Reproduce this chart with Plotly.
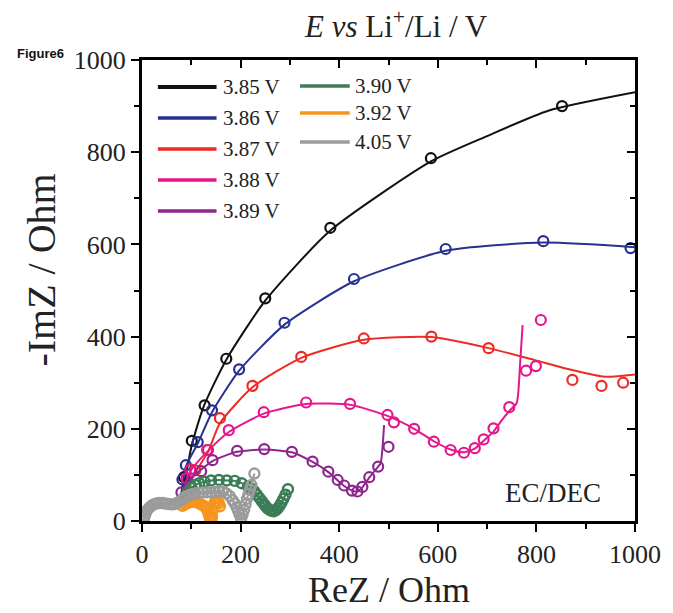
import plotly.graph_objects as go

# ---------------- data ----------------
labels = ["3.85 V", "3.86 V", "3.87 V", "3.88 V", "3.89 V", "3.90 V", "3.92 V", "4.05 V"]
colors = ["#111111", "#27318f", "#ee2a24", "#e6168c", "#8e268f", "#3b7d57", "#f7941d", "#9b9b9b"]

# 3.85 V
v385_x = [85, 101, 127, 171, 250, 382, 586, 852]
v385_y = [95, 174, 251, 352, 483, 636, 787, 900]
v385_fit_x = [78, 90, 101, 125, 171, 250, 382, 586, 700, 824, 1000]
v385_fit_y = [45, 105, 165, 248, 350, 478, 630, 780, 835, 890, 930]

# 3.86 V
v386_x = [82, 89, 113, 142, 197, 289, 430, 616, 814, 991]
v386_y = [90, 121, 171, 240, 329, 430, 525, 590, 607, 592]
v386_fit_x = [78, 89, 113, 142, 197, 289, 430, 616, 814, 1000]
v386_fit_y = [45, 118, 168, 236, 326, 426, 520, 586, 604, 594]

# 3.87 V
v387_x = [108, 134, 158, 224, 323, 450, 587, 703, 873, 932, 976]
v387_y = [110, 154, 223, 293, 356, 396, 400, 375, 306, 293, 300]
v387_fit_x = [82, 108, 134, 158, 224, 323, 450, 587, 703, 797, 871, 939, 1000]
v387_fit_y = [50, 105, 150, 212, 290, 354, 393, 399, 375, 349, 328, 313, 318]

# 3.88 V
v388_x = [90, 98, 132, 176, 247, 333, 422, 498, 511, 552, 592, 626, 653, 675, 693, 713, 745, 779, 799, 809]
v388_y = [92, 112, 154, 197, 236, 257, 254, 230, 214, 200, 172, 154, 148, 158, 177, 201, 247, 326, 336, 436]
v388_fit_x = [80, 98, 132, 176, 247, 333, 422, 498, 552, 592, 626, 653, 675, 693, 713, 730, 747, 760, 767, 772]
v388_fit_y = [55, 108, 150, 193, 233, 254, 252, 228, 200, 173, 155, 149, 157, 174, 194, 219, 241, 256, 342, 425]

# 3.89 V
v389_x = [80, 97, 120, 143, 193, 248, 304, 346, 378, 397, 410, 426, 437, 447, 461, 479, 500]
v389_y = [62, 80, 108, 132, 152, 156, 150, 129, 107, 89, 77, 66, 64, 74, 95, 118, 161]
v389_fit_x = [75, 100, 143, 193, 248, 304, 346, 378, 397, 410, 426, 437, 447, 461, 479, 484, 491]
v389_fit_y = [45, 92, 130, 150, 155, 149, 128, 106, 88, 76, 66, 64, 73, 94, 118, 125, 208]

# 3.90 V
v390_x = [85, 92, 100, 108, 116, 127, 140, 156, 172, 188, 202, 215, 222, 228, 233, 238, 243, 247,
          251, 255, 259, 263, 267, 271, 275, 279, 283, 287, 291, 296]
v390_y = [50, 62, 72, 78, 82, 85, 88, 89, 88, 87, 82, 75, 70, 64, 57, 50, 43, 37,
          32, 27, 24, 22, 21, 23, 27, 33, 40, 48, 57, 69]

# 3.92 V
v392_x = [82, 86, 90, 95, 100, 105, 110, 115, 120, 125, 129, 132, 135, 137, 139, 141, 142, 143,
          145, 147, 150, 153, 156, 158]
v392_y = [33, 36, 38, 40, 42, 42, 41, 39, 36, 33, 30, 24, 16, 9, 4, 2, 10, 22,
          33, 40, 43, 42, 38, 32]

# 4.05 V
v405_x = [3, 4, 6, 8, 11, 15, 19, 24, 29, 35, 41, 47, 53, 59, 64, 69, 74, 79, 84, 89, 95,
          101, 108, 116, 124, 132, 140, 148, 156, 164, 171, 178, 184, 188, 192, 195, 198,
          201, 204, 207, 210, 213, 216, 219, 222, 228]
v405_y = [0, 6, 12, 18, 24, 29, 33, 36, 38, 39, 39, 38, 37, 36, 36, 38, 41, 45, 49, 53, 56,
          58, 60, 61, 62, 62, 62, 63, 64, 64, 60, 54, 45, 38, 30, 22, 14,
          6, 14, 24, 36, 48, 58, 68, 78, 103]

series_pts = [(v385_x, v385_y), (v386_x, v386_y), (v387_x, v387_y), (v388_x, v388_y),
              (v389_x, v389_y), (v390_x, v390_y), (v392_x, v392_y), (v405_x, v405_y)]
series_fit = [(v385_fit_x, v385_fit_y), (v386_fit_x, v386_fit_y), (v387_fit_x, v387_fit_y),
              (v388_fit_x, v388_fit_y), (v389_fit_x, v389_fit_y), None, None, None]

x_ticks = [0, 200, 400, 600, 800, 1000]
y_ticks = [0, 200, 400, 600, 800, 1000]

# ---------------- layout helpers ----------------
W, H = 673, 613
L, R, T, B = 142, 638, 60, 521


def px(x):
    return (x - L) / (R - L)


def py(y):
    return (B - y) / (B - T)


SERIF = "Liberation Serif, Times New Roman, serif"
TXT = "#222222"

fig = go.Figure()

for i, lab in enumerate(labels):
    fit = series_fit[i]
    xs, ys = series_pts[i]
    if fit is not None:
        fig.add_trace(go.Scatter(x=fit[0], y=fit[1], mode="lines", name=lab,
                                 line=dict(color=colors[i], width=2, shape="spline", smoothing=0.6),
                                 showlegend=False, hoverinfo="skip"))
        fig.add_trace(go.Scatter(x=xs, y=ys, mode="markers", name=lab, showlegend=False,
                                 marker=dict(symbol="circle-open", size=10, color=colors[i],
                                             line=dict(width=2.2, color=colors[i]))))
    else:
        fig.add_trace(go.Scatter(x=xs, y=ys, mode="lines+markers", name=lab, showlegend=False,
                                 line=dict(color=colors[i], width=2, shape="spline", smoothing=0.6),
                                 marker=dict(symbol="circle-open", size=10, color=colors[i],
                                             line=dict(width=2.4, color=colors[i]))))

# invisible trace to activate the mirrored (top/right) axes
fig.add_trace(go.Scatter(x=[None], y=[None], xaxis="x2", yaxis="y2", showlegend=False,
                         hoverinfo="skip"))

axis_common = dict(range=[0, 1000], showgrid=False, zeroline=False, linecolor="black",
                   linewidth=3, tickcolor="black", tickwidth=2)

fig.update_layout(
    width=W, height=H,
    margin=dict(l=L, r=W - R, t=T, b=H - B),
    paper_bgcolor="white", plot_bgcolor="white",
    showlegend=False,
    xaxis=dict(**axis_common, tickvals=x_ticks, ticks="outside", ticklen=8,
               tickfont=dict(family=SERIF, size=26, color=TXT), showline=True,
               minor=dict(tickvals=[100, 300, 500, 700, 900], ticks="outside", ticklen=5,
                          tickwidth=2, tickcolor="black")),
    yaxis=dict(**axis_common, tickvals=y_ticks, ticks="outside", ticklen=8,
               tickfont=dict(family=SERIF, size=26, color=TXT), showline=True,
               minor=dict(tickvals=[100, 300, 500, 700, 900], ticks="outside", ticklen=5,
                          tickwidth=2, tickcolor="black")),
    xaxis2=dict(**axis_common, overlaying="x", side="top", anchor="y", tickvals=x_ticks,
                ticks="inside", ticklen=8, showticklabels=False, showline=True,
                minor=dict(tickvals=[100, 300, 500, 700, 900], ticks="inside", ticklen=5,
                           tickwidth=2, tickcolor="black")),
    yaxis2=dict(**axis_common, overlaying="y", side="right", anchor="x", tickvals=y_ticks,
                ticks="inside", ticklen=8, showticklabels=False, showline=True,
                minor=dict(tickvals=[100, 300, 500, 700, 900], ticks="inside", ticklen=5,
                           tickwidth=2, tickcolor="black")),
)

ann = []
# title
ann.append(dict(text="<i>E vs</i> Li<sup>+</sup>/Li / V", x=px(398), y=py(24), xref="paper", yref="paper",
                showarrow=False, font=dict(family=SERIF, size=31, color=TXT),
                xanchor="center", yanchor="middle"))
# Figure6
ann.append(dict(text="<b>Figure6</b>", x=px(14), y=py(53), xref="paper", yref="paper",
                showarrow=False, font=dict(family="Liberation Sans, Arial, sans-serif", size=13, color="#111"),
                xanchor="left", yanchor="middle"))
# axis titles
ann.append(dict(text="ReZ / Ohm", x=px(390), y=py(590), xref="paper", yref="paper",
                showarrow=False, font=dict(family=SERIF, size=36, color=TXT),
                xanchor="center", yanchor="middle"))
ann.append(dict(text="-ImZ / Ohm", x=px(40), y=py(270), xref="paper", yref="paper",
                showarrow=False, font=dict(family=SERIF, size=40, color=TXT), textangle=-90,
                xanchor="center", yanchor="middle"))
# EC/DEC
ann.append(dict(text="EC/DEC", x=px(555), y=py(493), xref="paper", yref="paper",
                showarrow=False, font=dict(family=SERIF, size=27, color=TXT),
                xanchor="center", yanchor="middle"))

# legend (manual, two columns)
shapes = []
col1_rows = [87, 118, 149, 180, 211]
col2_rows = [86, 113, 142]
for i, lab in enumerate(labels):
    if i < 5:
        x0, x1, tx, yy = 158, 217, 221, col1_rows[i]
    else:
        x0, x1, tx, yy = 301, 351, 354, col2_rows[i - 5]
    shapes.append(dict(type="line", xref="paper", yref="paper", x0=px(x0), x1=px(x1),
                       y0=py(yy), y1=py(yy), line=dict(color=colors[i], width=4 if i == 0 else 3.5)))
    ann.append(dict(text=lab, x=px(tx), y=py(yy), xref="paper", yref="paper", showarrow=False,
                    font=dict(family=SERIF, size=21, color=TXT), xanchor="left", yanchor="middle"))

fig.update_layout(annotations=ann, shapes=shapes)

fig.write_html("out.html")
